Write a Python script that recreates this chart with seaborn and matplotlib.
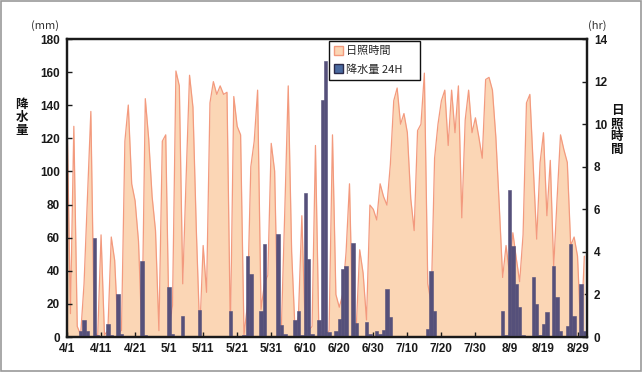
import numpy as np
import pandas as pd
import matplotlib
matplotlib.use("Agg")
import matplotlib.pyplot as plt
from matplotlib.patches import Patch, Rectangle
import seaborn as sns

# daily sunshine hours (hr)
sun_apr = [10.5, 1.1, 9.9, 0.5, 0.1, 2.5, 6.5, 10.6, 0.3, 0.0,
           4.8, 0.1, 0.3, 4.7, 3.6, 0.2, 0.3, 9.2, 10.9, 7.2,
           6.4, 4.5, 0.1, 11.2, 9.3, 6.6, 5.0, 0.3, 9.2, 9.5]
sun_may = [0.3, 1.5, 12.5, 11.8, 2.5, 7.5, 12.3, 10.8, 5.0, 0.2,
           4.3, 2.1, 11.0, 12.0, 11.4, 11.8, 11.4, 11.5, 0.2, 11.3,
           9.9, 9.5, 0.1, 1.5, 8.0, 9.2, 11.6, 1.3, 2.5, 2.9, 9.1]
sun_jun = [7.8, 0.1, 0.5, 6.0, 11.8, 4.0, 0.3, 1.0, 5.7, 0.3,
           0.3, 0.5, 9.0, 0.3, 0.2, 0.1, 0.3, 9.5, 2.0, 1.4,
           2.0, 4.0, 7.2, 0.3, 0.5, 4.1, 3.0, 0.8, 6.2, 6.0]
sun_jul = [5.5, 7.2, 6.6, 6.2, 8.1, 11.1, 11.7, 10.0, 10.5, 9.6,
           6.5, 5.0, 9.7, 10.0, 12.4, 2.5, 1.6, 8.4, 10.0, 11.1,
           11.6, 9.0, 11.6, 9.6, 11.8, 5.6, 10.2, 11.6, 9.6, 10.3, 9.4]
sun_aug = [8.4, 12.1, 12.2, 11.6, 9.4, 6.2, 2.8, 4.3, 3.0, 4.9,
           3.7, 2.6, 4.8, 11.0, 11.4, 8.0, 4.6, 8.2, 9.6, 5.7,
           8.3, 3.3, 6.5, 9.5, 8.8, 8.2, 4.3, 4.7, 3.8, 0.1, 3.8]

# daily precipitation (mm, 24H)
rain_apr = [0, 0, 0, 0, 3.4, 10, 3.4, 0, 60, 1,
            0, 0, 8, 1.5, 0, 26, 2, 0, 0, 0,
            0, 0, 46, 1, 0, 0, 0, 0, 0, 0]
rain_may = [30, 2, 0, 0, 12.5, 0, 0, 0, 0, 16.5,
            0, 0, 0, 0, 0, 0, 0, 0, 15.5, 0,
            0, 0, 1, 49, 38, 0, 0, 16, 56, 0, 0]
rain_jun = [0, 62, 7, 2, 0, 0, 10, 15.5, 1, 87,
            47, 2, 0, 10, 143, 167, 3, 0, 3.5, 11,
            41, 43, 0, 57, 8.5, 0, 0, 9, 2, 0]
rain_jul = [3.4, 2, 4, 29, 12, 0, 0, 0, 0, 0,
            0, 0, 0, 0, 0, 4.6, 40, 16, 0, 0,
            0, 0, 0, 0, 0, 0, 0, 0, 0, 0, 0]
rain_aug = [0, 0, 0, 0, 0, 0, 16, 1.4, 89, 55,
            32, 18, 1, 0, 0, 36, 20, 1, 8, 15,
            0, 43, 24, 3.5, 0, 6.5, 56, 12.5, 0, 32, 3.4]

dates = pd.date_range("2021-04-01", "2021-08-31", freq="D")
df = pd.DataFrame({
    "day": np.arange(len(dates)),
    "sun": sun_apr + sun_may + sun_jun + sun_jul + sun_aug,
    "rain": rain_apr + rain_may + rain_jun + rain_jul + rain_aug,
})
tick_days = df["day"][::10]
tick_labels = [f"{d.month}/{d.day}" for d in dates[::10]]

sns.set_theme(style="white")
plt.rcParams["font.family"] = ["Noto Sans CJK JP", "DejaVu Sans"]

fill_color = "#fbd6b5"
line_color = "#f39a7e"
bar_color = "#55507a"
num_font = ["Liberation Sans Narrow", "Liberation Sans", "DejaVu Sans"]

fig = plt.figure(figsize=(6.42, 3.72), dpi=100)
ax = fig.add_axes([0.1044, 0.094, 0.81, 0.801])
ax2 = ax.twinx()

# sunshine area on the right axis
ax2.fill_between(df["day"], df["sun"], color=fill_color, linewidth=0)
sns.lineplot(data=df, x="day", y="sun", ax=ax2, color=line_color, linewidth=0.9)

# precipitation bars on the left axis, drawn above the area
sns.barplot(data=df, x="day", y="rain", ax=ax, native_scale=True, width=1.0,
            color=bar_color, saturation=1, errorbar=None,
            edgecolor=bar_color, linewidth=0.4)
ax.set_zorder(ax2.get_zorder() + 1)
ax.patch.set_visible(False)

ax.set_xlim(0, 152.8)
ax.set_ylim(0, 180)
ax2.set_ylim(0, 14)
ax.set_yticks(range(0, 181, 20))
ax2.set_yticks(range(0, 15, 2))
ax.set_xticks(tick_days)
ax.set_xticklabels(tick_labels)
ax.set_xlabel("")
ax.set_ylabel("")
ax2.set_ylabel("")

for a in (ax, ax2):
    for s in a.spines.values():
        s.set_color("#1a1a1a")
        s.set_linewidth(1.6)
    a.tick_params(direction="in", length=3.5, width=1, colors="#1a1a1a",
                  labelsize=8.5, pad=5)
    for lab in a.get_xticklabels() + a.get_yticklabels():
        lab.set_fontfamily(num_font)
        lab.set_fontweight("bold")
ax.tick_params(axis="y", left=True, right=False)
ax.tick_params(axis="x", bottom=True, pad=4)
ax2.tick_params(axis="y", right=True)

# axis titles
fig.text(0.070, 0.932, "(mm)", fontsize=8, color="#333333", ha="center", va="center")
fig.text(0.930, 0.932, "(hr)", fontsize=8, color="#333333", ha="center", va="center")
fig.text(0.034, 0.685, "降\n水\n量", fontsize=9, fontweight="bold", ha="center",
         va="center", linespacing=1.0, color="#111111")
fig.text(0.961, 0.650, "日\n照\n時\n間", fontsize=9, fontweight="bold", ha="center",
         va="center", linespacing=1.0, color="#111111")

handles = [Patch(facecolor=fill_color, edgecolor=line_color, linewidth=1),
           Patch(facecolor="#4a6aa0", edgecolor="#2a2a4a", linewidth=1)]
leg = ax.legend(handles, ["日照時間", "降水量 24H"], loc="upper left",
                bbox_to_anchor=(0.504, 0.862, 0.175, 0.131), mode="expand",
                fontsize=8, frameon=True,
                fancybox=False, edgecolor="#111111", facecolor="white",
                handlelength=0.8, handleheight=0.8, handletextpad=0.3,
                borderpad=0.45, labelspacing=0.7, borderaxespad=0)
leg.get_frame().set_linewidth(1.0)
leg.get_frame().set_alpha(1)

# thin grey frame around the whole picture
fig.patches.append(Rectangle((0.001, 0.002), 0.997, 0.995, transform=fig.transFigure,
                             fill=False, edgecolor="#999999", linewidth=1.2))

fig.savefig("out.png", dpi=100)
plt.close(fig)
